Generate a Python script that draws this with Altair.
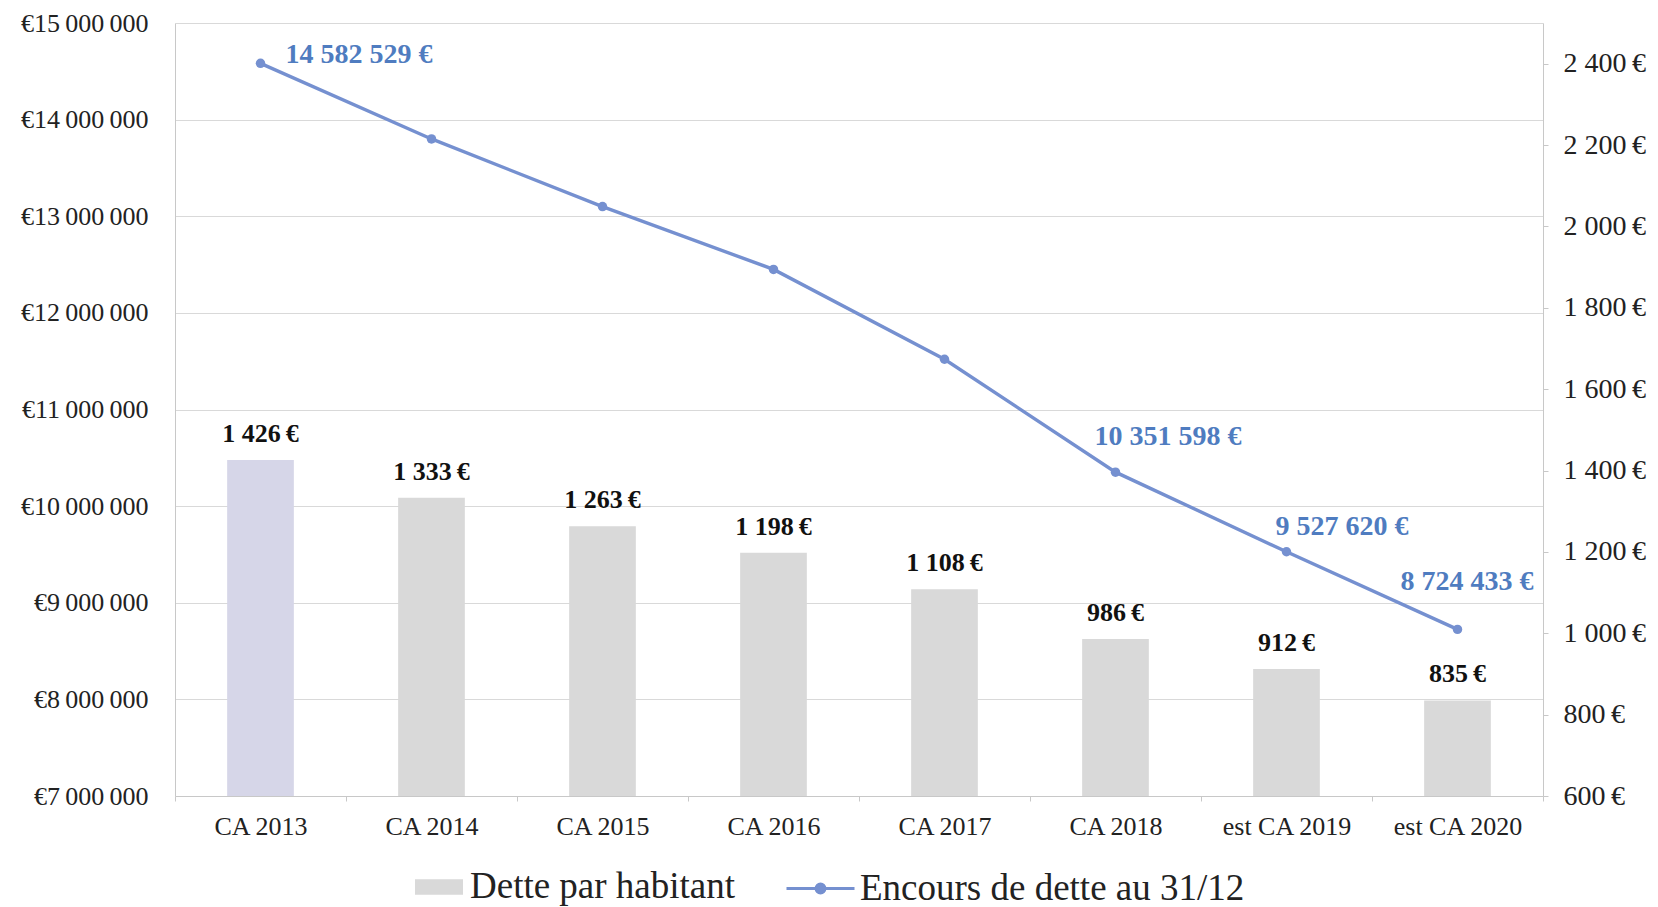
import altair as alt
import pandas as pd

years = ["CA 2013", "CA 2014", "CA 2015", "CA 2016", "CA 2017", "CA 2018", "est CA 2019", "est CA 2020"]
dette_par_habitant = [1426, 1333, 1263, 1198, 1108, 986, 912, 835]
encours_dette = [14582529, 13800000, 13100000, 12450000, 11520000, 10351598, 9527620, 8724433]
labelled_years = ["CA 2013", "CA 2018", "est CA 2019", "est CA 2020"]
left_ticks = [7000000, 8000000, 9000000, 10000000, 11000000, 12000000, 13000000, 14000000, 15000000]
right_ticks = [600, 800, 1000, 1200, 1400, 1600, 1800, 2000, 2200, 2400]


def fr(n):
    return f"{n:,}".replace(",", " ")


df = pd.DataFrame({"annee": years, "hab": dette_par_habitant, "enc": encours_dette})
df["hab_label"] = [fr(v) + "\u2009€" for v in dette_par_habitant]
df["enc_label"] = [fr(v) + " €" for v in encours_dette]
df["s_hab"] = "Dette par habitant"
df["s_enc"] = "Encours de dette au 31/12"

FONT = "Liberation Serif"
GRID = "#d9d9d9"
AXISC = "#c8c8c8"
TXT = "#222222"
LINE = "#7590d0"
LABEL = "#4f7cc0"
BAR = "#d9d9d9"
BAR_FIRST = "#d6d6e8"

x = alt.X(
    "annee:N",
    sort=years,
    scale=alt.Scale(paddingInner=0, paddingOuter=0),
    axis=alt.Axis(
        title=None, labelAngle=0, labelFont=FONT, labelFontSize=26, labelColor=TXT,
        tickBand="extent", tickSize=5, tickColor=AXISC, domainColor=AXISC,
        labelPadding=12, grid=False,
    ),
)

y_hab = alt.Y(
    "hab:Q",
    scale=alt.Scale(domain=[600, 2500], nice=False, zero=False),
    axis=alt.Axis(
        orient="right", title=None, values=right_ticks, grid=False,
        labelExpr="replace(format(datum.value, ','), ',', ' ') + '\u2009€'",
        tickSize=5, tickColor=AXISC, domainColor=AXISC, labelPadding=15,
        labelFont=FONT, labelFontSize=28, labelColor=TXT,
    ),
)

y_enc = alt.Y(
    "enc:Q",
    scale=alt.Scale(domain=[7000000, 15000000], nice=False, zero=False),
    axis=alt.Axis(
        orient="left", title=None, values=left_ticks, grid=True, gridColor=GRID,
        labelExpr="'€' + replace(replace(format(datum.value, ','), ',', '\u2009'), ',', '\u2009')",
        ticks=False, domainColor=AXISC, labelPadding=27,
        labelFont=FONT, labelFontSize=26, labelColor=TXT,
    ),
)

base = alt.Chart(df)

bars = base.mark_bar(width=alt.RelativeBandSize(0.39), clip=True).encode(
    x=x,
    y=y_hab,
    fill=alt.when(alt.datum.annee == "CA 2013").then(alt.value(BAR_FIRST)).otherwise(
        alt.Fill(
            "s_hab:N",
            scale=alt.Scale(range=[BAR]),
            legend=alt.Legend(
                title=None, orient="none", legendX=240, legendY=840, padding=0,
                symbolType="M-1,-0.32H1V0.32H-1Z", symbolSize=2304, symbolStrokeWidth=0,
                labelFont=FONT, labelFontSize=37, labelColor=TXT, labelOffset=7,
                labelLimit=600,
            ),
        )
    ),
)

bar_text = base.mark_text(
    baseline="alphabetic", dy=-18, font=FONT, fontSize=26, fontWeight="bold", color="#111111"
).encode(x=x, y=y_hab, text="hab_label:N")

line = base.mark_line(strokeWidth=3.4).encode(
    x=x,
    y=y_enc,
    stroke=alt.Stroke(
        "s_enc:N",
        scale=alt.Scale(range=[LINE]),
        legend=alt.Legend(
            title=None, orient="none", legendX=610, legendY=830, padding=0,
            symbolType="M-1,0H1M-0.13,0A0.13,0.13,0,1,1,0.13,0A0.13,0.13,0,1,1,-0.13,0Z",
            symbolSize=4624, symbolStrokeWidth=3, symbolFillColor=LINE, symbolStrokeColor=LINE,
            labelFont=FONT, labelFontSize=37, labelColor=TXT, labelOffset=4, labelLimit=800,
        ),
    ),
)

points = base.mark_point(filled=True, size=90, color=LINE, opacity=1).encode(x=x, y=y_enc)

offsets = {
    "CA 2013": (25, -8),
    "CA 2018": (-21, -35),
    "est CA 2019": (-11, -25),
    "est CA 2020": (-57, -47),
}

labels = []
for yr in labelled_years:
    dx, dy = offsets[yr]
    labels.append(
        base.transform_filter(alt.datum.annee == yr)
        .mark_text(align="left", baseline="middle", dx=dx, dy=dy, font=FONT, fontSize=28,
                   fontWeight="bold", color=LABEL)
        .encode(x=x, y=y_enc, text="enc_label:N")
    )

bar_layer = alt.layer(bars, bar_text)
line_layer = alt.layer(line, points, *labels)

chart = (
    alt.layer(bar_layer, line_layer)
    .resolve_scale(y="independent")
    .properties(
        width=1368, height=773,
        autosize=alt.AutoSizeParams(type="none"),
        padding={"left": 167, "top": 15, "right": 107, "bottom": 111},
    )
    .configure_view(stroke=None)
)

chart.save("out.html", embed_options={"renderer": "svg", "actions": False})
